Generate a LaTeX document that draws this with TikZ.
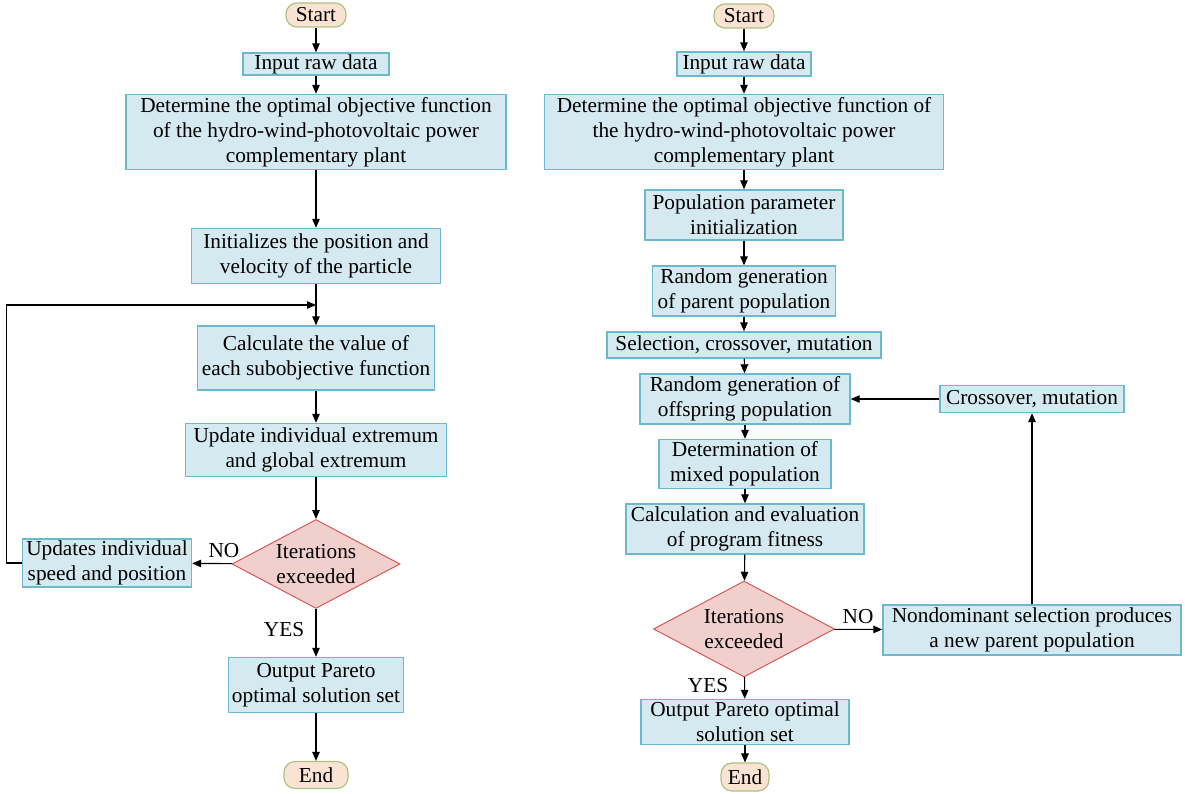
\documentclass[tikz,border=0pt]{standalone}
\usepackage{fontspec}
\setmainfont{Liberation Serif}
\newfontfamily\flowfont{Liberation Serif}
\usetikzlibrary{arrows.meta, positioning, shapes.geometric}
\definecolor{boxfill}{HTML}{D5E9F0}
\definecolor{boxline}{HTML}{6BB8CF}
\definecolor{decfill}{HTML}{F0CFCD}
\definecolor{decline}{HTML}{D65A56}
\definecolor{termfill}{HTML}{FBE3D3}
\definecolor{termline}{HTML}{A9C47F}

\tikzset{
  base/.style={font=\flowfont\fontsize{21.3}{25}\selectfont, align=center, inner sep=0pt},
  proc/.style={base, draw=boxline, fill=boxfill, line width=1.4pt},
  term/.style={base, draw=termline, fill=termfill, line width=1.2pt, rounded corners=11pt},
  decide/.style={base, diamond, inner sep=-5pt, draw=decline, fill=decfill, line width=1pt},
  lbl/.style={font=\flowfont\fontsize{21.3}{25}\selectfont, inner sep=0pt},
  arr/.style={-{Triangle[length=9pt, width=7.5pt]}, line width=1.1pt}
}

\begin{document}
\begin{tikzpicture}[x=1pt, y=-1pt]

% Canvas
\useasboundingbox (0,0) rectangle (1185,794);

% ---------- Left flowchart ----------
\node[term, minimum width=60pt, minimum height=24pt] (lstart) at (316,15) {Start};
\node[proc, minimum width=146pt, minimum height=22pt] (linput) at (316,64) {Input raw data};
\node[proc, minimum width=380pt, minimum height=75pt] (lobj) at (316,132)
  {Determine the optimal objective function\\of the hydro-wind-photovoltaic power\\complementary plant};
\node[proc, minimum width=249pt, minimum height=55pt] (linit) at (316,256)
  {Initializes the position and\\velocity of the particle};
\coordinate (ljoin) at (316,305);
\node[proc, minimum width=237pt, minimum height=64pt] (lcalc) at (316,358)
  {Calculate the value of\\each subobjective function};
\node[proc, minimum width=261pt, minimum height=53pt] (lext) at (316,450)
  {Update individual extremum\\and global extremum};
\node[decide, aspect=1.89, minimum width=168pt, minimum height=89pt] (ldec) at (316,564)
  {Iterations\\exceeded};
\node[proc, minimum width=169pt, minimum height=48pt] (lupd) at (107,563)
  {Updates individual\\speed and position};
\node[proc, minimum width=175pt, minimum height=55pt] (lout) at (316,685)
  {Output Pareto\\optimal solution set};
\node[term, minimum width=64pt, minimum height=27pt] (lend) at (316,775) {End};

\node[lbl] (lno) at (224,551) {NO};
\node[lbl] (lyes) at (284,630) {YES};

\draw[arr] (lstart) -- (linput);
\draw[arr] (linput) -- (lobj);
\draw[arr] (lobj) -- (linit);
\draw[line width=1.1pt] (linit) -- (ljoin);
\draw[arr] (ljoin) -- (lcalc);
\draw[arr] (lcalc) -- (lext);
\draw[arr] (lext) -- (ldec);
\draw[arr] (ldec) -- (lupd);
\draw[arr] (lupd.west) -- ++(-15,0) |- (ljoin);
\draw[arr] (ldec) -- (lout);
\draw[arr] (lout) -- (lend);

% ---------- Right flowchart ----------
\node[term, minimum width=60pt, minimum height=24pt] (rstart) at (744,16) {Start};
\node[proc, minimum width=134pt, minimum height=24pt] (rinput) at (744,64) {Input raw data};
\node[proc, minimum width=399pt, minimum height=75pt] (robj) at (744,132)
  {Determine the optimal objective function of\\the hydro-wind-photovoltaic power\\complementary plant};
\node[proc, minimum width=198pt, minimum height=50pt] (rpop) at (744,215)
  {Population parameter\\initialization};
\node[proc, minimum width=183pt, minimum height=50pt] (rpar) at (744,291)
  {Random generation\\of parent population};
\node[proc, minimum width=274pt, minimum height=26pt] (rsel) at (744,345)
  {Selection, crossover, mutation};
\node[proc, minimum width=210pt, minimum height=50pt] (roff) at (745,399)
  {Random generation of\\offspring population};
\node[proc, minimum width=172pt, minimum height=49pt] (rmix) at (745,464)
  {Determination of\\mixed population};
\node[proc, minimum width=238pt, minimum height=50pt] (rfit) at (745,529)
  {Calculation and evaluation\\of program fitness};
\node[decide, aspect=1.885, minimum width=181pt, minimum height=96pt] (rdec) at (744,629)
  {Iterations\\exceeded};
\node[proc, minimum width=298pt, minimum height=50pt] (rnon) at (1032,630)
  {Nondominant selection produces\\a new parent population};
\node[proc, minimum width=184pt, minimum height=27pt] (rcross) at (1032,399)
  {Crossover, mutation};
\node[proc, minimum width=208pt, minimum height=45pt] (rout) at (745,722)
  {Output Pareto optimal\\solution set};
\node[term, minimum width=48pt, minimum height=28pt] (rend) at (745,777) {End};

\node[lbl] (rno) at (858,617) {NO};
\node[lbl] (ryes) at (708,686) {YES};

\draw[arr] (rstart) -- (rinput);
\draw[arr] (rinput) -- (robj);
\draw[arr] (robj) -- (rpop);
\draw[arr] (rpop) -- (rpar);
\draw[arr] (rpar) -- (rsel);
\draw[arr] (rsel) -- (roff);
\draw[arr] (roff) -- (rmix);
\draw[arr] (rmix) -- (rfit);
\draw[arr] (rfit) -- (rdec);
\draw[arr] (rdec) -- (rnon);
\draw[arr] (rnon) -- (rcross);
\draw[arr] (rcross) -- (roff);
\draw[arr] (rdec) -- (rout);
\draw[arr] (rout) -- (rend);

\end{tikzpicture}
\end{document}
